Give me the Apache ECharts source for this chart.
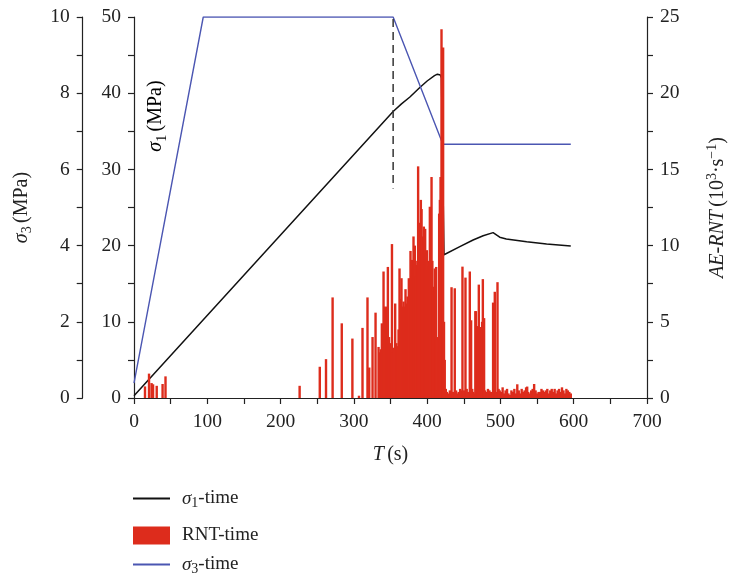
<!DOCTYPE html>
<html>
<head>
<meta charset="utf-8">
<script src="https://cdn.jsdelivr.net/npm/echarts@6/dist/echarts.min.js"></script>
<style>html,body{margin:0;padding:0;background:#fff}#c{width:730px;height:585px}</style>
</head>
<body>
<div id="c"></div>
<script>
// ---- data ----
const sigma3Time = [0, 94.5, 353.6, 421.5, 596];
const sigma3Value = [0.39, 10, 10, 6.66, 6.66];

const sigma1Time = [0, 353.6, 365, 376.5, 390, 400, 410, 414, 418, 419.5, 423, 424.4, 444.6, 462.7, 476.4, 490, 499, 508, 535.8, 563, 596];
const sigma1Value = [0.3, 37.6, 38.6, 39.5, 40.75, 41.6, 42.3, 42.5, 42.4, 42.0, 18.8, 18.8, 19.86, 20.74, 21.3, 21.7, 21.1, 20.87, 20.5, 20.2, 19.96];

const dashedTime = [353.6, 353.6];
const dashedValue = [9.95, 5.5];

const rntTime = [
  15, 20.5, 24, 26, 31, 39, 43,
  226, 253.5, 262, 271, 283.5, 298, 307, 311.8, 318.6, 321, 325.5, 329.6, 333.7,
  335.4, 336.8, 338.2, 339.5, 340.5, 341.8, 343.2, 344.8, 346.4, 348, 349.3, 350.5, 352, 353.5, 355, 356.4, 358, 359.6,
  361, 362.3, 363.6, 365, 366.4, 367.8, 369, 370.5, 371.8, 373.3, 375, 376.2, 377.3, 378.5, 379.6, 380.5, 381.4, 382.3,
  383.2, 384.4, 385.5, 386.6, 387.7, 388.7, 389.6, 390.5, 391.4, 392.4, 393.2, 394.3, 395.5, 396.4, 397.3, 398.6, 399.6,
  400.8, 401.9, 402.8, 403.7, 404.8, 406, 407.1, 408.2, 409.3, 410.5, 411.4, 412.3, 413.3, 414.2, 415.3, 416.4, 417.4,
  418.3, 419.6, 420.6, 421.8, 423, 424, 425.5, 427, 429, 431, 433.3, 435, 437.7, 439.5, 441, 443, 445, 446.5, 448.2,
  450, 452.3, 454, 456, 458.2, 460, 461.5, 463, 465, 465.8, 466.6, 467.5, 468.6, 469.5, 470.5, 471.6, 472.8, 474, 475,
  476, 477, 477.7, 479, 481, 483, 485, 487, 490, 491, 492.3, 494, 496, 497.5, 499, 501, 503, 505, 507, 509, 511, 513,
  515, 517, 519, 521, 523, 525, 527, 529, 531, 533, 535, 536.5, 538, 540, 542, 544, 546, 548, 550, 552, 554, 556, 558,
  560, 562, 564, 566, 568, 570, 572, 574, 576, 578, 580, 582, 584, 586, 588, 590, 592, 594, 596
];
const rntValue = [
  0.76, 1.6, 0.98, 0.9, 0.8, 0.92, 1.42,
  0.8, 2.05, 2.55, 6.6, 4.9, 3.9, 0.15, 4.6, 6.6, 2.0, 4.0, 5.6, 3.35,
  3.0, 3.2, 4.9, 3.5, 8.3, 6.0, 5.95, 6.0, 8.6, 4.0, 3.6, 3.4, 10.1, 3.0, 3.3, 6.2, 3.6, 3.4,
  4.5, 8.5, 6.5, 7.86, 6.0, 6.33, 6.0, 7.14, 6.2, 6.66, 7.86, 7.0, 9.65, 8.0, 9.06, 8.5, 10.6, 9.2,
  10.0, 8.0, 8.73, 9.0, 15.2, 10.5, 11.5, 10.0, 13.0, 12.4, 10.6, 9.5, 11.25, 10.2, 11.1, 9.5, 9.7,
  8.4, 8.6, 9.0, 12.55, 9.5, 14.5, 9.0, 7.3, 7.0, 8.5, 7.5, 8.6, 4.0, 0.5, 3.0, 12.1, 13.0,
  14.5, 24.2, 20.0, 23.0, 5.0, 2.5, 0.6, 0.4, 0.3, 0.5, 7.27, 0.4, 7.2, 0.5, 0.3, 0.4, 0.6, 0.5, 8.62,
  0.5, 7.9, 0.6, 0.4, 8.3, 5.1, 0.6, 0.4, 0.3, 5.7, 5.7, 4.7, 4.7, 4.7, 7.44, 4.65, 4.65, 4.65, 5.0,
  7.8, 5.2, 5.24, 0.5, 0.4, 0.6, 0.5, 0.4, 6.26, 0.5, 6.97, 0.4, 7.6, 0.6, 0.5, 0.4, 0.7, 0.3, 0.5, 0.6, 0.3, 0.2,
  0.5, 0.4, 0.6, 0.3, 0.9, 0.5, 0.3, 0.6, 0.4, 0.5, 0.7, 0.75, 0.4, 0.3, 0.5, 0.6, 0.92, 0.5, 0.3, 0.4, 0.4, 0.6, 0.5,
  0.4, 0.5, 0.6, 0.3, 0.5, 0.6, 0.4, 0.6, 0.3, 0.5, 0.6, 0.4, 0.7, 0.5, 0.3, 0.6, 0.5, 0.4, 0.3
];

const xTicks = {min: 0, max: 700, interval: 100};
const sigma3Ticks = {min: 0, max: 10, interval: 2};
const sigma1Ticks = {min: 0, max: 50, interval: 10};
const rntTicks = {min: 0, max: 25, interval: 5};

// ---- styling ----
const FONT = 'Liberation Serif';
const zip = (a, b) => a.map((v, i) => [v, b[i]]);
const rich = {
  it: {fontFamily: FONT, fontStyle: 'italic', fontSize: 20, lineHeight: 26, color: '#222'},
  n: {fontFamily: FONT, fontSize: 20, lineHeight: 26, color: '#222'},
  sub: {fontFamily: FONT, fontSize: 14, lineHeight: 14, verticalAlign: 'bottom', color: '#222'},
  sup: {fontFamily: FONT, fontSize: 14, lineHeight: 14, verticalAlign: 'top', color: '#222'}
};
const legRich = {
  it: {fontFamily: FONT, fontStyle: 'italic', fontSize: 19, lineHeight: 24, color: '#222', padding: [0, 0, 0, 7]},
  n: {fontFamily: FONT, fontSize: 19, lineHeight: 24, color: '#222'},
  r: {fontFamily: FONT, fontSize: 19, lineHeight: 24, color: '#222', padding: [0, 0, 0, 7]},
  sub: {fontFamily: FONT, fontSize: 14, lineHeight: 14, verticalAlign: 'bottom', color: '#222'}
};
const axisCommon = {
  axisLine: {show: true, onZero: false, lineStyle: {color: '#222', width: 1.2}},
  axisTick: {show: true, inside: false, length: 6, lineStyle: {color: '#222', width: 1.2}},
  minorTick: {show: true, splitNumber: 2, length: 6, lineStyle: {color: '#222', width: 1.2}},
  splitLine: {show: false},
  axisLabel: {fontFamily: FONT, fontSize: 19.5, color: '#222', margin: 13}
};

const chart = echarts.init(document.getElementById('c'), null, {renderer: 'canvas'});
chart.setOption({
  animation: false,
  backgroundColor: '#fff',
  grid: {left: 134, right: 83, top: 17, bottom: 187, containLabel: false, outerBoundsMode: 'none'},
  xAxis: Object.assign({}, axisCommon, {
    type: 'value', min: xTicks.min, max: xTicks.max, interval: xTicks.interval,
    axisLabel: Object.assign({}, axisCommon.axisLabel, {margin: 14}),
    name: '{it|T} {n|(s)}', nameLocation: 'middle', nameGap: 44,
    nameTextStyle: {rich: rich}
  }),
  yAxis: [
    Object.assign({}, axisCommon, {
      type: 'value', position: 'left', offset: 51.3,
      min: sigma3Ticks.min, max: sigma3Ticks.max, interval: sigma3Ticks.interval,
      name: '{it|σ}{sub|3} {n|(MPa)}', nameLocation: 'middle', nameGap: 48, nameRotate: 90,
      nameTextStyle: {rich: rich}
    }),
    Object.assign({}, axisCommon, {
      type: 'value', position: 'left', offset: 0,
      min: sigma1Ticks.min, max: sigma1Ticks.max, interval: sigma1Ticks.interval
    }),
    Object.assign({}, axisCommon, {
      type: 'value', position: 'right', offset: 0,
      min: rntTicks.min, max: rntTicks.max, interval: rntTicks.interval,
      name: '{it|AE-RNT} {n|(10}{sup|3}{n|·s}{sup|−1}{n|)}', nameLocation: 'middle', nameGap: 58, nameRotate: 90,
      nameTextStyle: {rich: rich}
    })
  ],
  legend: [
    {data: ['σ1-time'], left: 133, top: 489, padding: 0, orient: 'vertical', icon: 'rect', itemWidth: 37, itemHeight: 2,
     formatter: () => '{it|σ}{sub|1}{n|-time}', textStyle: {rich: legRich}, selectedMode: false},
    {data: ['RNT-time'], left: 133, top: 526, padding: 0, orient: 'vertical', icon: 'rect', itemWidth: 37, itemHeight: 18,
     formatter: () => '{r|RNT-time}', textStyle: {rich: legRich}, selectedMode: false},
    {data: ['σ3-time'], left: 133, top: 555, padding: 0, orient: 'vertical', icon: 'rect', itemWidth: 37, itemHeight: 2,
     formatter: () => '{it|σ}{sub|3}{n|-time}', textStyle: {rich: legRich}, selectedMode: false}
  ],
  graphic: [{
    type: 'text', x: 156, y: 116, rotation: Math.PI / 2,
    style: {text: '{it|σ}{sub|1} {n|(MPa)}', rich: rich, align: 'center', verticalAlign: 'middle'}
  }],
  series: [
    {name: 'σ1-time', type: 'line', xAxisIndex: 0, yAxisIndex: 1, data: zip(sigma1Time, sigma1Value),
     showSymbol: false, symbol: 'none', color: '#111', lineStyle: {color: '#111', width: 1.5}, z: 2},
    {name: 'RNT-time', type: 'bar', xAxisIndex: 0, yAxisIndex: 2, data: zip(rntTime, rntValue),
     barWidth: 2.4, color: '#dd2c1c', itemStyle: {color: '#dd2c1c'}, z: 3},
    {name: 'σ3-time', type: 'line', xAxisIndex: 0, yAxisIndex: 0, data: zip(sigma3Time, sigma3Value),
     showSymbol: false, symbol: 'none', color: '#4b56b2', lineStyle: {color: '#4b56b2', width: 1.4}, z: 2},
    {name: 'dashed', type: 'line', xAxisIndex: 0, yAxisIndex: 0, data: zip(dashedTime, dashedValue),
     showSymbol: false, symbol: 'none', lineStyle: {color: '#333', width: 1.5, type: [8, 5]}, z: 2}
  ]
});
</script>
</body>
</html>
